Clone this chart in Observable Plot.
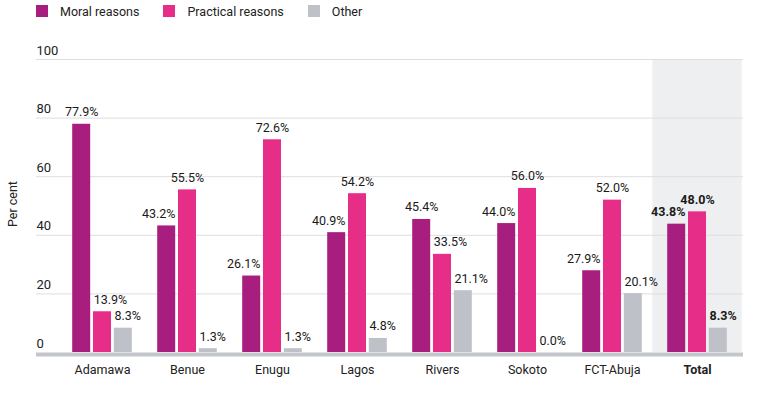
<!DOCTYPE html>
<html><head><meta charset="utf-8">
<script src="https://cdn.jsdelivr.net/npm/d3@7"></script>
<script src="https://cdn.jsdelivr.net/npm/@observablehq/plot@0.6"></script>
<style>
body{margin:0;background:#fff;font-family:Roboto,sans-serif;}
#legend{height:22px;display:flex;align-items:center;padding-left:36px;gap:24px;font-size:12.5px;color:#222;}
.item{display:flex;align-items:center;}
.sw{width:12px;height:12px;margin-right:12px;}
</style></head><body>
<div id="legend"></div><div id="chart"></div>
<script>
const regions = ["Adamawa","Benue","Enugu","Lagos","Rivers","Sokoto","FCT-Abuja","Total"];
const moral = [77.9,43.2,26.1,40.9,45.4,44.0,27.9,43.8];
const practical = [13.9,55.5,72.6,54.2,33.5,56.0,52.0,48.0];
const other = [8.3,1.3,1.3,4.8,21.1,0.0,20.1,8.3];
const seriesNames = ["Moral reasons","Practical reasons","Other"];
const colors = ["#a81e7e","#e62d87","#bec2c8"];
const yTicks = [0,20,40,60,80,100];

const legend = document.getElementById("legend");
seriesNames.forEach((s,j)=>{
  const it = document.createElement("div"); it.className="item";
  const sw = document.createElement("div"); sw.className="sw"; sw.style.background=colors[j];
  const t = document.createElement("span"); t.textContent=s;
  it.appendChild(sw); it.appendChild(t); legend.appendChild(it);
});

const rows = regions.flatMap((r,i)=>{
  const vals=[moral[i],practical[i],other[i]];
  const mx = vals.indexOf(Math.max(...vals));
  return vals.map((v,j)=>({region:r, j, value:v,
    anchor: j<mx?"end":(j===mx?"middle":"start"), total: r==="Total"}));
});

const off = 20.8, half = 8.8;
const marks = [
  Plot.barY(["Total"], {x:d=>d, y1:0, y2:100, fill:"#eeeff1", insetLeft:-35.7, insetRight:-35.7}),
  Plot.ruleY(yTicks.filter(t=>t>0), {stroke:"#dedede"})
];
for (let j=0;j<3;j++){
  marks.push(Plot.barY(rows.filter(d=>d.j===j), {x:"region", y:"value", fill:colors[j], dx:(j-1)*off}));
}
marks.push(Plot.ruleY([0], {stroke:"#c3c6cb", strokeWidth:4, dy:2}));
for (let j=0;j<3;j++){
  for (const a of ["start","middle","end"]){
    for (const b of [false,true]){
      const data = rows.filter(d=>d.j===j && d.anchor===a && d.total===b);
      if (!data.length) continue;
      marks.push(Plot.text(data, {x:"region", y:"value", text:d=>d.value.toFixed(1)+"%",
        dx:(j-1)*off + (a==="start"?-half:(a==="end"?half:0)), dy:-12,
        textAnchor:a, fontSize:12.5, fontWeight:b?"bold":"normal", fill:"#1a1a1a"}));
    }
  }
}
marks.push(Plot.text(yTicks, {y:d=>d, text:d=>String(d), frameAnchor:"left", textAnchor:"start", dy:-9, fontSize:13, fill:"#222"}));
marks.push(Plot.text(regions.filter(r=>r!=="Total"), {x:d=>d, text:d=>d, frameAnchor:"bottom", dy:21.5, fontSize:12.5, fill:"#222"}));
marks.push(Plot.text(["Total"], {x:d=>d, text:d=>d, frameAnchor:"bottom", dy:21.5, fontSize:12.5, fontWeight:"bold", fill:"#222"}));
marks.push(Plot.text(["Per cent"], {frameAnchor:"left", text:d=>d, rotate:-90, dx:-24, dy:21, fontSize:12.5, fill:"#222"}));

const chart = Plot.plot({
  width:764, height:374,
  marginLeft:36, marginRight:21, marginTop:37, marginBottom:44,
  style:{fontFamily:"Roboto, sans-serif", background:"#fff"},
  x:{domain:regions, range:[57.3,740.7], paddingInner:0.794, paddingOuter:0.397, axis:null},
  y:{domain:[0,100], axis:null},
  marks
});
document.getElementById("chart").appendChild(chart);
</script>
</body></html>
